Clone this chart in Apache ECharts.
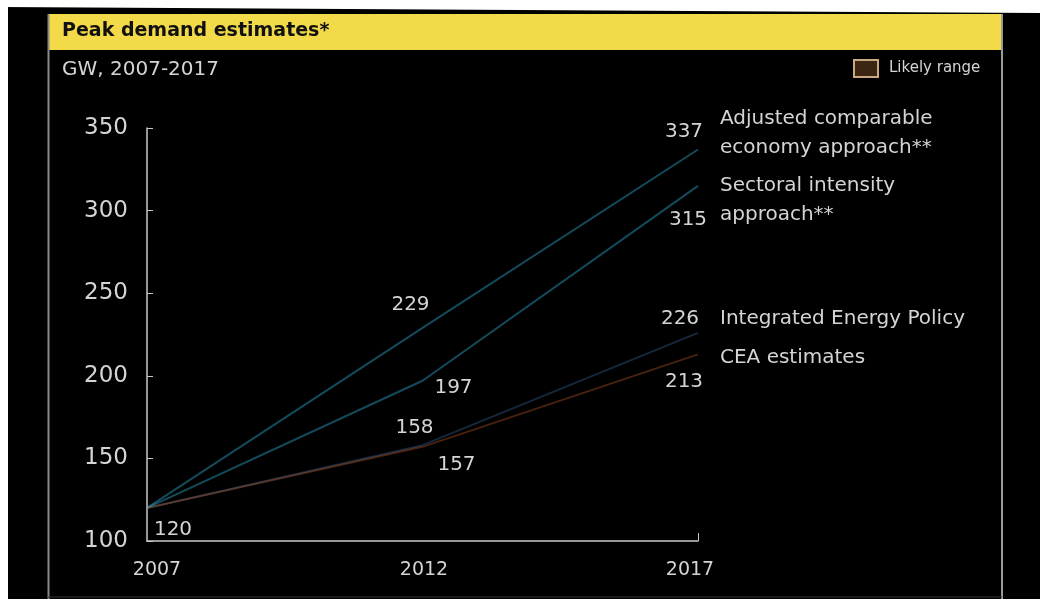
<!DOCTYPE html>
<html>
<head>
<meta charset="utf-8">
<script src="https://cdn.jsdelivr.net/npm/echarts@6/dist/echarts.min.js"></script>
<style>
  html, body { margin: 0; padding: 0; background: #000; }
  #chart { width: 1040px; height: 599px; }
</style>
</head>
<body>
<div id="chart"></div>
<script>
// Peak demand estimates, GW
const years = [2007, 2012, 2017];
const adjustedComparable = [120, 229, 337];
const sectoralIntensity = [120, 197, 315];
const integratedEnergyPolicy = [120, 158, 226];
const ceaEstimates = [120, 157, 213];

const seriesNames = [
  'Adjusted comparable\neconomy approach**',
  'Sectoral intensity\napproach**',
  'Integrated Energy Policy',
  'CEA estimates'
];
const rangeName = 'Likely range';
const yTicks = [100, 150, 200, 250, 300, 350];
const xTickLabels = [2007, 2012, 2017];

const FONT = 'DejaVu Sans';
const TEXT = '#d4d4d4';

// which points carry a value label, and where the label sits around the point
const labelPlacement = {
  adjusted: { 1: [-12, -23], 2: [-14, -18] },
  sectoral: { 1: [31, 7], 2: [-10, 34] },
  iep: { 1: [-8, -17], 2: [-18, -14] },
  cea: { 0: [26, 22], 1: [34, 18], 2: [-14, 27] }
};

function buildData(values, placement) {
  return values.map((v, i) => {
    const item = { value: [years[i], v] };
    if (placement[i]) {
      item.label = {
        show: true,
        position: 'inside',
        offset: placement[i],
        formatter: String(v),
        color: TEXT,
        fontFamily: FONT,
        fontSize: 20
      };
    } else {
      item.label = { show: false };
    }
    return item;
  });
}

const rangeBase = sectoralIntensity.map((v, i) => [years[i], v]);
const rangeWidth = adjustedComparable.map((v, i) => [years[i], v - sectoralIntensity[i]]);

function lineSeries(name, values, placement, color) {
  return {
    name: name,
    type: 'line',
    data: buildData(values, placement),
    symbol: 'circle',
    symbolSize: 0,
    showSymbol: true,
    itemStyle: { color: color },
    lineStyle: { color: color, width: 2 },
    z: 4
  };
}

const chart = echarts.init(document.getElementById('chart'), null, { renderer: 'canvas' });

chart.setOption({
  backgroundColor: '#000',
  animation: false,
  title: {
    text: 'Peak demand estimates*',
    left: 62,
    top: 22,
    padding: 0,
    textStyle: { fontFamily: FONT, fontSize: 19, fontWeight: 'bold', color: '#111' }
  },
  legend: {
    data: [{
      name: rangeName,
      icon: 'rect',
      itemStyle: { color: '#3a2612', borderColor: '#c9aa80', borderWidth: 2 }
    }],
    left: 853,
    top: 59,
    padding: 0,
    itemWidth: 24,
    itemHeight: 17,
    itemGap: 10,
    textStyle: { fontFamily: FONT, fontSize: 15, color: TEXT, padding: [0, 0, 0, 6] },
    selectedMode: false
  },
  grid: { left: 147, right: 342, top: 128, bottom: 58, containLabel: false },
  xAxis: {
    type: 'value',
    min: 2007,
    max: 2017,
    splitLine: { show: false },
    axisLine: { show: true, lineStyle: { color: '#c8c8c8', width: 1.5 } },
    axisTick: { show: true, inside: true, length: 8, customValues: [2017], lineStyle: { color: '#c8c8c8' } },
    axisLabel: {
      customValues: xTickLabels,
      margin: 20,
      formatter: function (v) {
        if (v === xTickLabels[0]) return '{first|' + v + '}';
        if (v === xTickLabels[xTickLabels.length - 1]) return '{last|' + v + '}';
        return '{mid|' + v + '}';
      },
      rich: {
        first: { fontFamily: FONT, fontSize: 19, color: TEXT, padding: [0, 0, 0, 20] },
        mid: { fontFamily: FONT, fontSize: 19, color: TEXT, padding: [0, 0, 0, 3] },
        last: { fontFamily: FONT, fontSize: 19, color: TEXT, padding: [0, 16, 0, 0] }
      }
    }
  },
  yAxis: {
    type: 'value',
    min: yTicks[0],
    max: yTicks[yTicks.length - 1],
    interval: 50,
    splitLine: { show: false },
    axisLine: { show: true, lineStyle: { color: '#c8c8c8', width: 1.5 } },
    axisTick: { show: true, inside: true, length: 6, lineStyle: { color: '#c8c8c8' } },
    axisLabel: { margin: 19, fontFamily: FONT, fontSize: 23, color: TEXT }
  },
  graphic: [
    { type: 'polygon', shape: { points: [[0, 0], [1040, 0], [1040, 13], [0, 7]] }, style: { fill: '#fff' }, z: 0 },
    { type: 'rect', shape: { x: 0, y: 0, width: 8, height: 599 }, style: { fill: '#fff' }, z: 0 },
    { type: 'rect', shape: { x: 48, y: 14, width: 954, height: 36 }, style: { fill: '#f2da48' }, z: 0 },
    { type: 'line', shape: { x1: 48.5, y1: 14, x2: 48.5, y2: 599 }, style: { stroke: '#8a8a8a', lineWidth: 2 }, z: 0 },
    { type: 'line', shape: { x1: 1002, y1: 14, x2: 1002, y2: 599 }, style: { stroke: '#9a9a9a', lineWidth: 2 }, z: 0 },
    { type: 'line', shape: { x1: 48, y1: 597, x2: 1002, y2: 597 }, style: { stroke: '#333', lineWidth: 1 }, z: 0 },
    {
      type: 'text', left: 62, top: 60,
      style: { text: 'GW, 2007-2017', fontFamily: FONT, fontSize: 20, fill: TEXT }
    },
    {
      type: 'text', left: 720, top: 104,
      style: { text: seriesNames[0], fontFamily: FONT, fontSize: 20, lineHeight: 29, fill: TEXT }
    },
    {
      type: 'text', left: 720, top: 171,
      style: { text: seriesNames[1], fontFamily: FONT, fontSize: 20, lineHeight: 29, fill: TEXT }
    },
    {
      type: 'text', left: 720, top: 304,
      style: { text: seriesNames[2], fontFamily: FONT, fontSize: 20, lineHeight: 29, fill: TEXT }
    },
    {
      type: 'text', left: 720, top: 343,
      style: { text: seriesNames[3], fontFamily: FONT, fontSize: 20, lineHeight: 29, fill: TEXT }
    }
  ],
  series: [
    {
      name: 'range-base',
      type: 'line',
      stack: 'range',
      data: rangeBase,
      symbol: 'none',
      lineStyle: { opacity: 0 },
      silent: true,
      z: 1
    },
    {
      name: rangeName,
      type: 'line',
      stack: 'range',
      data: rangeWidth,
      symbol: 'none',
      lineStyle: { opacity: 0 },
      itemStyle: { color: '#3a2612' },
      areaStyle: { color: 'rgba(176,138,48,0.14)' },
      silent: true,
      z: 1
    },
    lineSeries(seriesNames[0], adjustedComparable, labelPlacement.adjusted, 'rgba(53,196,242,0.38)'),
    lineSeries(seriesNames[1], sectoralIntensity, labelPlacement.sectoral, 'rgba(53,196,242,0.38)'),
    lineSeries(seriesNames[2], integratedEnergyPolicy, labelPlacement.iep, 'rgba(74,144,216,0.28)'),
    lineSeries(seriesNames[3], ceaEstimates, labelPlacement.cea, 'rgba(224,106,42,0.32)')
  ]
});
</script>
</body>
</html>
